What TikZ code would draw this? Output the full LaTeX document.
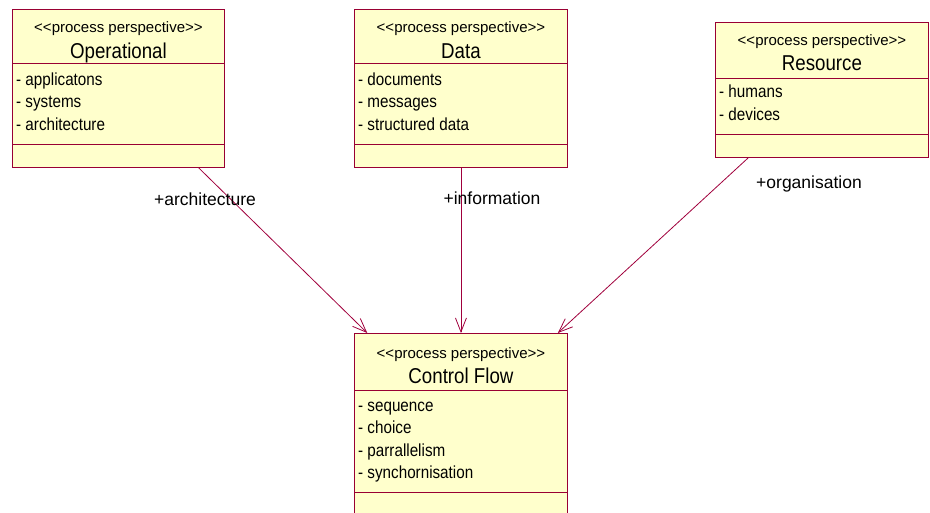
\documentclass[tikz,border=0pt]{standalone}
\usepackage{fontspec}
\setmainfont{Liberation Sans}
\newfontfamily\narrowfont[FakeStretch=0.87]{Liberation Sans}
\usetikzlibrary{arrows.meta,calc}
\definecolor{umlborder}{HTML}{990033}
\definecolor{umlfill}{HTML}{FFFFCC}
\definecolor{umlline}{HTML}{A0003C}
\newcommand\stereotxt{<\kern0pt<process perspective>\kern0pt>}
\tikzset{
  umlbox/.style={draw=umlborder, fill=umlfill, line width=0.9pt, inner sep=0pt, anchor=north west, rectangle},
  sepline/.style={draw=umlborder, line width=0.9pt},
  stereo/.style={anchor=base, inner sep=0pt, font=\fontsize{15}{17}\selectfont},
  cname/.style={anchor=base, inner sep=0pt, font=\narrowfont\fontsize{21.5}{24}\selectfont},
  attr/.style={anchor=base west, inner sep=0pt, font=\narrowfont\fontsize{17.5}{20}\selectfont},
  rolelabel/.style={anchor=base, inner sep=0pt, font=\fontsize{17.5}{20}\selectfont},
  assoc/.style={draw=umlline, line width=0.8pt, -{Straight Barb[length=14pt,width=11pt,line width=0.8pt]}},
}
\begin{document}
\begin{tikzpicture}[x=1pt,y=-1pt]
\useasboundingbox (0,0) rectangle (930,512);
\clip (0,0) rectangle (930,512);

% Operational
\node[umlbox, minimum width=212pt, minimum height=158pt] (op) at (12,9) {};
\draw[sepline] ($(op.north west)+(0,54)$) -- ($(op.north east)+(0,54)$);
\draw[sepline] ($(op.north west)+(0,135)$) -- ($(op.north east)+(0,135)$);
\node[stereo] (opst) at ($(op.north)+(0,23)$) {\stereotxt};
\node[cname] (opnm) at ($(op.north)+(0,49)$) {Operational};
\node[attr] (opa1) at ($(op.north west)+(4,76)$) {- applicatons};
\node[attr] (opa2) at ($(op.north west)+(4,98.5)$) {- systems};
\node[attr] (opa3) at ($(op.north west)+(4,121)$) {- architecture};

% Data
\node[umlbox, minimum width=213pt, minimum height=158pt] (da) at (354,9) {};
\draw[sepline] ($(da.north west)+(0,54)$) -- ($(da.north east)+(0,54)$);
\draw[sepline] ($(da.north west)+(0,135)$) -- ($(da.north east)+(0,135)$);
\node[stereo] (dast) at ($(da.north)+(0,23)$) {\stereotxt};
\node[cname] (danm) at ($(da.north)+(0,49)$) {Data};
\node[attr] (daa1) at ($(da.north west)+(4,76)$) {- documents};
\node[attr] (daa2) at ($(da.north west)+(4,98.5)$) {- messages};
\node[attr] (daa3) at ($(da.north west)+(4,121)$) {- structured data};

% Resource
\node[umlbox, minimum width=213pt, minimum height=135pt] (re) at (715,22) {};
\draw[sepline] ($(re.north west)+(0,56)$) -- ($(re.north east)+(0,56)$);
\draw[sepline] ($(re.north west)+(0,112)$) -- ($(re.north east)+(0,112)$);
\node[stereo] (rest) at ($(re.north)+(0,23)$) {\stereotxt};
\node[cname] (renm) at ($(re.north)+(0,48)$) {Resource};
\node[attr] (rea1) at ($(re.north west)+(4,75)$) {- humans};
\node[attr] (rea2) at ($(re.north west)+(4,98)$) {- devices};

% Control Flow
\node[umlbox, minimum width=213pt, minimum height=200pt] (cf) at (354,333) {};
\draw[sepline] ($(cf.north west)+(0,57)$) -- ($(cf.north east)+(0,57)$);
\draw[sepline] ($(cf.north west)+(0,159)$) -- ($(cf.north east)+(0,159)$);
\node[stereo] (cfst) at ($(cf.north)+(0,25)$) {\stereotxt};
\node[cname] (cfnm) at ($(cf.north)+(0,50)$) {Control Flow};
\node[attr] (cfa1) at ($(cf.north west)+(4,78)$) {- sequence};
\node[attr] (cfa2) at ($(cf.north west)+(4,100.5)$) {- choice};
\node[attr] (cfa3) at ($(cf.north west)+(4,123)$) {- parrallelism};
\node[attr] (cfa4) at ($(cf.north west)+(4,145.5)$) {- synchornisation};

% Associations
\draw[assoc] ($(op.south west)!0.877!(op.south east)$) -- ($(cf.north west)!0.062!(cf.north east)$);
\draw[assoc] (da.south) -- (cf.north);
\draw[assoc] ($(re.south west)!0.155!(re.south east)$) -- ($(cf.north west)!0.953!(cf.north east)$);

% Role labels
\node[rolelabel] (l1) at (205,205) {+architecture};
\node[rolelabel] (l2) at (492,204) {+information};
\node[rolelabel] (l3) at (809,188) {+organisation};
\end{tikzpicture}
\end{document}
